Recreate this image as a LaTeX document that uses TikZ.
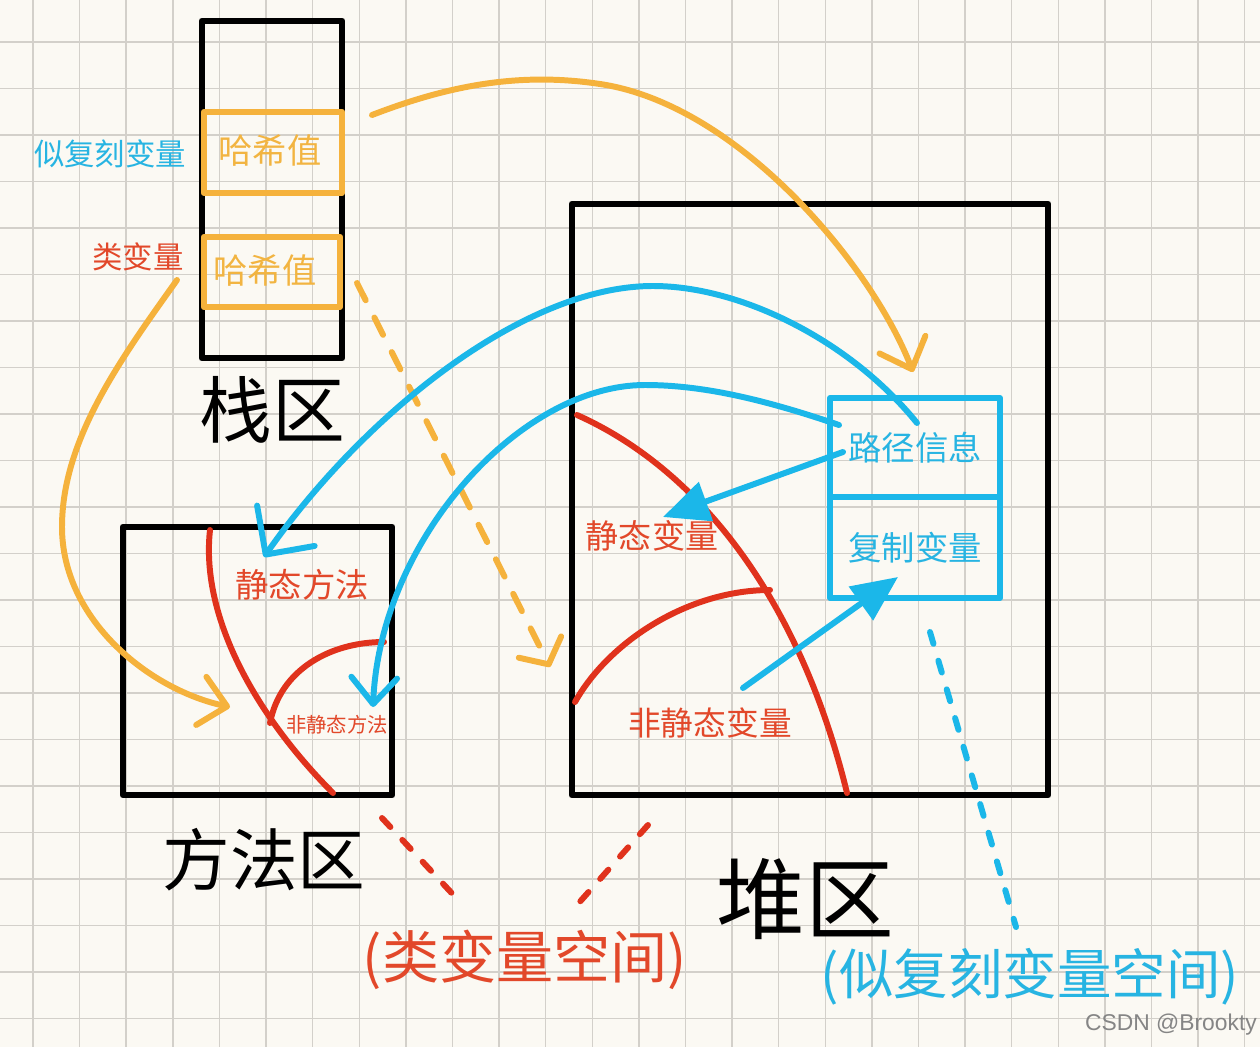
\documentclass[tikz,border=0pt]{standalone}
\usepackage{fontspec}
\setmainfont{Liberation Sans}
\newfontfamily\cjk{Noto Sans CJK SC}
\usetikzlibrary{arrows.meta}
\definecolor{bgc}{HTML}{FBF9F3}
\definecolor{gridc}{HTML}{D3D0CA}
\definecolor{orng}{HTML}{F5B23C}
\definecolor{orngtxt}{HTML}{F2B441}
\definecolor{cyn}{HTML}{1BB7E9}
\definecolor{cyntxt}{HTML}{27B4E2}
\definecolor{redl}{HTML}{E0321C}
\definecolor{redt}{HTML}{E2482A}
\definecolor{wmark}{HTML}{858585}
\begin{document}
\begin{tikzpicture}[x=0.02cm,y=-0.02cm,
  bbox/.style={draw=black,line width=3.9pt,line join=round,inner sep=0pt,outer sep=0pt},
  obox/.style={draw=orng,line width=3.6pt,line join=round,inner sep=0pt,outer sep=0pt},
  cbox/.style={draw=cyn,line width=3.4pt,line join=round,inner sep=0pt,outer sep=0pt},
  txt/.style={inner sep=0pt,font=\cjk\fontsize{#1}{#1}\selectfont},
  redcurve/.style={draw=redl,line width=3.4pt,line cap=round},
  oarrow/.style={draw=orng,line width=3.4pt,line cap=round,-{Straight Barb[length=15pt,width=28pt,round]}},
  odash/.style={draw=orng,line width=3.4pt,line cap=round,dash pattern=on 11pt off 11pt,-{Straight Barb[length=11pt,width=27pt,round]}},
  carrowa/.style={draw=cyn,line width=3.4pt,line cap=round,-{Straight Barb[length=20pt,width=40pt,round]}},
  carrowb/.style={draw=cyn,line width=3.4pt,line cap=round,-{Straight Barb[length=15pt,width=26pt,round]}},
  ctri/.style={draw=cyn,line width=3.4pt,line cap=round,-{Triangle[length=26pt,width=23pt]}},
  rdash/.style={draw=redl,line width=3.4pt,line cap=round,dash pattern=on 7pt off 10pt},
  cdash/.style={draw=cyn,line width=3.4pt,line cap=round,dash pattern=on 7pt off 10pt}
]
\useasboundingbox (0,0) rectangle (1260,1047);
\fill[bgc] (0,0) rectangle (1260,1047);
% grid
\foreach \k in {0,...,26} {\draw[gridc,line width=0.8pt] ({33+46.6*\k},0) -- ({33+46.6*\k},1047);}
\foreach \k in {0,...,21} {\draw[gridc,line width=0.8pt] (0,{42+46.5*\k}) -- (1260,{42+46.5*\k});}

% boxes
\node[bbox,minimum width=2.80cm,minimum height=6.74cm] (stack) at (272,189.5) {};
\node[obox,minimum width=2.76cm,minimum height=1.62cm] (hash1) at (273,152.5) {};
\node[obox,minimum width=2.72cm,minimum height=1.40cm] (hash2) at (272,272) {};
\node[bbox,minimum width=5.38cm,minimum height=5.36cm] (method) at (257.5,661) {};
\node[bbox,minimum width=9.52cm,minimum height=11.82cm] (heap) at (810,499.5) {};
\node[cbox,minimum width=3.4cm,minimum height=1.98cm,txt=19pt,text=cyntxt] (pathcell) at (915,447.5) {路径信息};
\node[cbox,minimum width=3.4cm,minimum height=2.02cm,txt=19pt,text=cyntxt] (copycell) at (915,547.5) {复制变量};

% red region curves
\draw[redcurve] (210,530) .. controls (200,620) and (260,720) .. (333,793);
\draw[redcurve] (270,723) .. controls (280,670) and (330,642) .. (384,642);
\draw[redcurve] (577,415) .. controls (700,470) and (800,600) .. (847,793);
\draw[redcurve] (575,702) .. controls (610,640) and (690,590) .. (770,590);

% texts
\node[txt=19.5pt,text=orngtxt] (h1t) at (270,151) {哈希值};
\node[txt=19.5pt,text=orngtxt] (h2t) at (265,270) {哈希值};
\node[txt=17.3pt,text=cyntxt] (lblcopy) at (110,154) {似复刻变量};
\node[txt=17.3pt,text=redt] (lblclass) at (138,257) {类变量};
\node[txt=41.4pt] (stackname) at (272,410) {栈区};
\node[txt=38.5pt] (methodname) at (264,860) {方法区};
\node[txt=50.5pt] (heapname) at (805,899) {堆区};
\node[txt=19pt,text=redt] (smethod) at (302,585) {静态方法};
\node[txt=11.6pt,text=redt] (nsmethod) at (337,725) {非静态方法};
\node[txt=18.8pt,text=redt] (svar) at (652,536) {静态变量};
\node[txt=18.6pt,text=redt] (nsvar) at (710,723) {非静态变量};
\node[txt=32.5pt,text=redt] (classspace) at (525,960) {(类变量空间)};
\node[txt=31pt,text=cyntxt] (copyspace) at (1030,977) {(似复刻变量空间)};
\node[inner sep=0pt,font=\fontsize{13pt}{13pt}\selectfont,text=wmark] (wm) at (1171,1025) {CSDN @Brookty};

% connector end points
\coordinate (a1s) at (372,115); \coordinate (a1m) at (600,84); \coordinate (a1e) at (913,372);
\coordinate (a2s) at (177,280); \coordinate (a2m) at (62,527); \coordinate (a2e) at (230,707);
\coordinate (a3s) at (357,283); \coordinate (a3e) at (550,667);
\coordinate (a4s) at (917,423); \coordinate (a4m) at (653,286); \coordinate (a4e) at (264,557);
\coordinate (a5s) at (839,425); \coordinate (a5m) at (645,385); \coordinate (a5e) at (373,707);
\coordinate (a6s) at (843,452); \coordinate (a6e) at (663,517);
\coordinate (a7s) at (743,688); \coordinate (a7e) at (898,577);
\coordinate (r1s) at (382,818); \coordinate (r1e) at (460,902);
\coordinate (r2s) at (648,825); \coordinate (r2e) at (577,905);
\coordinate (c1s) at (930,632); \coordinate (c1e) at (1016,927);

% orange arrows
\draw[oarrow] (a1s) .. controls (450,85) and (520,72) .. (a1m) .. controls (740,105) and (873,268) .. (a1e);
\draw[oarrow] (a2s) .. controls (120,360) and (62,440) .. (a2m) .. controls (62,620) and (150,690) .. (a2e);
\draw[odash] (a3s) -- (a3e);

% cyan arrows
\draw[carrowa] (a4s) .. controls (850,340) and (740,286) .. (a4m) .. controls (520,286) and (360,420) .. (a4e);
\draw[carrowb] (a5s) .. controls (760,398) and (700,385) .. (a5m) .. controls (520,385) and (380,540) .. (a5e);
\draw[ctri] (a6s) -- (a6e);
\draw[ctri] (a7s) -- (a7e);

% dashed pointers
\draw[rdash] (r1s) -- (r1e);
\draw[rdash] (r2s) -- (r2e);
\draw[cdash] (c1s) -- (c1e);
\end{tikzpicture}
\end{document}
